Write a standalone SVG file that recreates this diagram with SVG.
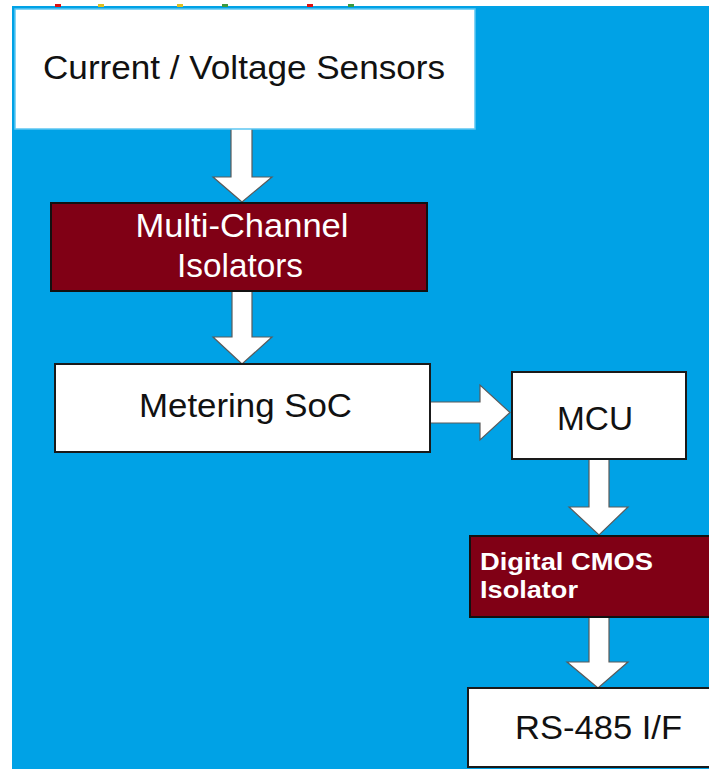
<svg xmlns="http://www.w3.org/2000/svg" width="709" height="769" viewBox="0 0 709 769">
  <style>
    .bg { fill: #00A2E6; }
    .wbox { fill: #ffffff; stroke: #1a1a1a; stroke-width: 2; }
    .rbox { fill: #800015; stroke: #111111; stroke-width: 2; }
    .arrow { fill: #ffffff; stroke: #5a5a5a; stroke-width: 1.2; stroke-linejoin: miter; }
    .t { font-family: "Liberation Sans", Arial, sans-serif; font-size: 34px; fill: #111111; text-anchor: middle; }
    .tw { font-family: "Liberation Sans", Arial, sans-serif; font-size: 34px; fill: #ffffff; text-anchor: middle; }
    .tb { font-family: "Liberation Sans", Arial, sans-serif; font-size: 24px; font-weight: bold; fill: #ffffff; }
  </style>
  <rect x="0" y="0" width="709" height="769" fill="#ffffff"/>
  <rect class="bg" x="12" y="6" width="697" height="763"/>
  <g id="marks">
    <rect x="55" y="4" width="6" height="3" fill="#e01010"/>
    <rect x="98" y="4" width="6" height="3" fill="#e0c020"/>
    <rect x="177" y="4" width="6" height="3" fill="#e0c020"/>
    <rect x="222" y="4" width="6" height="3" fill="#3a9a40"/>
    <rect x="307" y="4" width="6" height="3" fill="#e01010"/>
    <rect x="348" y="4" width="6" height="3" fill="#3a9a40"/>
  </g>
  <g id="connectors">
    <path class="arrow" d="M231,128 L252,128 L252,177 L272,177 L242,202 L213,177 L231,177 Z"/>
    <path class="arrow" d="M232,291 L252,291 L252,337 L272,337 L242,364 L213,337 L232,337 Z"/>
    <path class="arrow" d="M430,402 L480,402 L480,385 L510,412.5 L480,440 L480,423 L430,423 Z"/>
    <path class="arrow" d="M589,459 L609,459 L609,507 L628,507 L599,535 L569,507 L589,507 Z"/>
    <path class="arrow" d="M589,617 L609,617 L609,662 L628,662 L598,688 L567,662 L589,662 Z"/>
  </g>
  <g id="sensors">
    <rect x="15" y="9" width="460" height="120" fill="#ffffff" stroke="#5cc6f2" stroke-width="1.5"/>
    <text class="t" x="244" y="79" textLength="402" lengthAdjust="spacingAndGlyphs">Current / Voltage Sensors</text>
  </g>
  <g id="isolators">
    <rect class="rbox" x="51" y="203" width="376" height="88"/>
    <text class="tw" x="242" y="237" textLength="213" lengthAdjust="spacingAndGlyphs">Multi-Channel</text>
    <text class="tw" x="240" y="277" textLength="126" lengthAdjust="spacingAndGlyphs">Isolators</text>
  </g>
  <g id="metering">
    <rect class="wbox" x="55" y="364" width="375" height="88"/>
    <text class="t" x="245.5" y="417" textLength="213" lengthAdjust="spacingAndGlyphs">Metering SoC</text>
  </g>
  <g id="mcu">
    <rect class="wbox" x="512" y="372" width="174" height="87"/>
    <text class="t" x="595" y="430" textLength="76" lengthAdjust="spacingAndGlyphs">MCU</text>
  </g>
  <g id="cmos">
    <rect class="rbox" x="470" y="536" width="242" height="81"/>
    <text class="tb" x="480" y="570" textLength="173" lengthAdjust="spacingAndGlyphs">Digital CMOS</text>
    <text class="tb" x="480" y="598" textLength="98" lengthAdjust="spacingAndGlyphs">Isolator</text>
  </g>
  <g id="rs485">
    <rect class="wbox" x="468" y="688" width="244" height="79"/>
    <text class="t" x="598.5" y="739" textLength="167" lengthAdjust="spacingAndGlyphs">RS-485 I/F</text>
  </g>
</svg>
